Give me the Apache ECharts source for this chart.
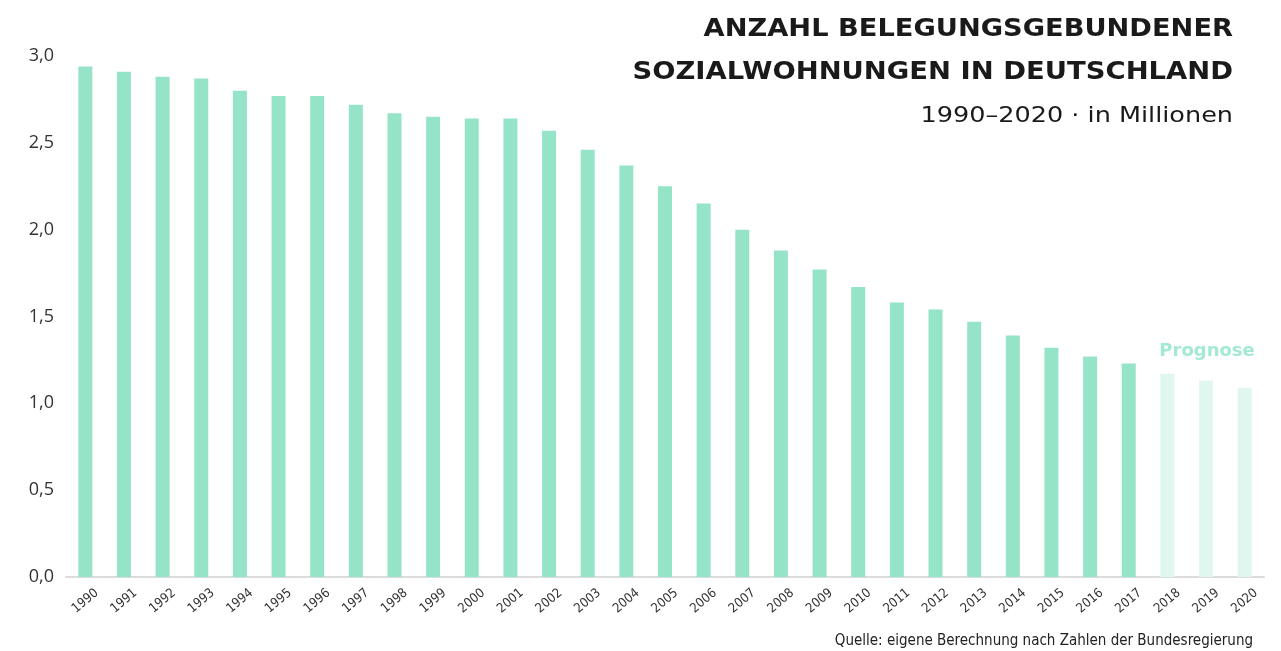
<!DOCTYPE html>
<html>
<head>
<meta charset="utf-8">
<script src="https://cdn.jsdelivr.net/npm/echarts@6/dist/echarts.min.js"></script>
<style>
html,body{margin:0;padding:0;background:#fff;}
#chart{width:1281px;height:651px;}
</style>
</head>
<body>
<div id="chart"></div>
<script>
var years = ['1990','1991','1992','1993','1994','1995','1996','1997','1998','1999','2000','2001','2002','2003','2004','2005','2006','2007','2008','2009','2010','2011','2012','2013','2014','2015','2016','2017','2018','2019','2020'];
var actualValues = [2.94,2.91,2.88,2.87,2.80,2.77,2.77,2.72,2.67,2.65,2.64,2.64,2.57,2.46,2.37,2.25,2.15,2.00,1.88,1.77,1.67,1.58,1.54,1.47,1.39,1.32,1.27,1.23];
var forecastValues = [1.17,1.13,1.09];

var barColor = '#96e4c8';
var forecastColor = '#e0f7ef';
var narrow = "'DejaVu Sans Condensed', 'Liberation Sans Narrow', 'Roboto Condensed', sans-serif";

var seriesData = actualValues.map(function(v){ return {value:v}; })
  .concat(forecastValues.map(function(v){ return {value:v, itemStyle:{color:forecastColor}}; }));

var chart = echarts.init(document.getElementById('chart'));
chart.setOption({
  animation:false,
  backgroundColor:'#fff',
  graphic:[
    {type:'text', x:1233, y:29, scaleX:1.09, originX:0, originY:0,
     style:{text:'ANZAHL BELEGUNGSGEBUNDENER', textAlign:'right', textVerticalAlign:'middle',
       font:'bold 25px "DejaVu Sans"', fill:'#1a1a1a'}},
    {type:'text', x:1233, y:72, scaleX:1.097, originX:0, originY:0,
     style:{text:'SOZIALWOHNUNGEN IN DEUTSCHLAND', textAlign:'right', textVerticalAlign:'middle',
       font:'bold 25px "DejaVu Sans"', fill:'#1a1a1a'}},
    {type:'text', x:1233, y:116, scaleX:1.16, originX:0, originY:0,
     style:{text:'1990–2020 · in Millionen', textAlign:'right', textVerticalAlign:'middle',
       font:'normal 22px "DejaVu Sans"', fill:'#1a1a1a'}},
    {type:'text', x:1253, y:641,
     style:{text:'Quelle: eigene Berechnung nach Zahlen der Bundesregierung', textAlign:'right', textVerticalAlign:'middle',
       font:'normal 15px ' + narrow, fill:'#222'}}
  ],
  grid:{left:66, right:17, top:56, bottom:74, containLabel:false},
  xAxis:{
    type:'category', data:years, boundaryGap:true,
    axisLine:{lineStyle:{color:'#dcdcdc', width:2}},
    axisTick:{show:false},
    axisLabel:{rotate:40, interval:0, align:'center', verticalAlign:'middle', margin:24,
      fontFamily:narrow, fontSize:13, color:'#333'}
  },
  yAxis:{
    type:'value', min:0, max:3, interval:0.5,
    splitLine:{show:false}, axisLine:{show:false}, axisTick:{show:false},
    axisLabel:{margin:12, fontFamily:'Open Sans', fontSize:18, color:'#333',
      formatter:function(v){ return v.toFixed(1).replace('.', ','); }}
  },
  series:[{
    type:'bar', data:seriesData, barWidth:14,
    itemStyle:{color:barColor},
    markPoint:{
      symbol:'rect', symbolSize:0,
      data:[{coord:['2019', 1.30], label:{show:true, formatter:'Prognose', fontFamily:'DejaVu Sans', fontWeight:'bold', fontSize:18, color:'#a4e9d0', offset:[1,0]}}]
    }
  }]
});
</script>
</body>
</html>
